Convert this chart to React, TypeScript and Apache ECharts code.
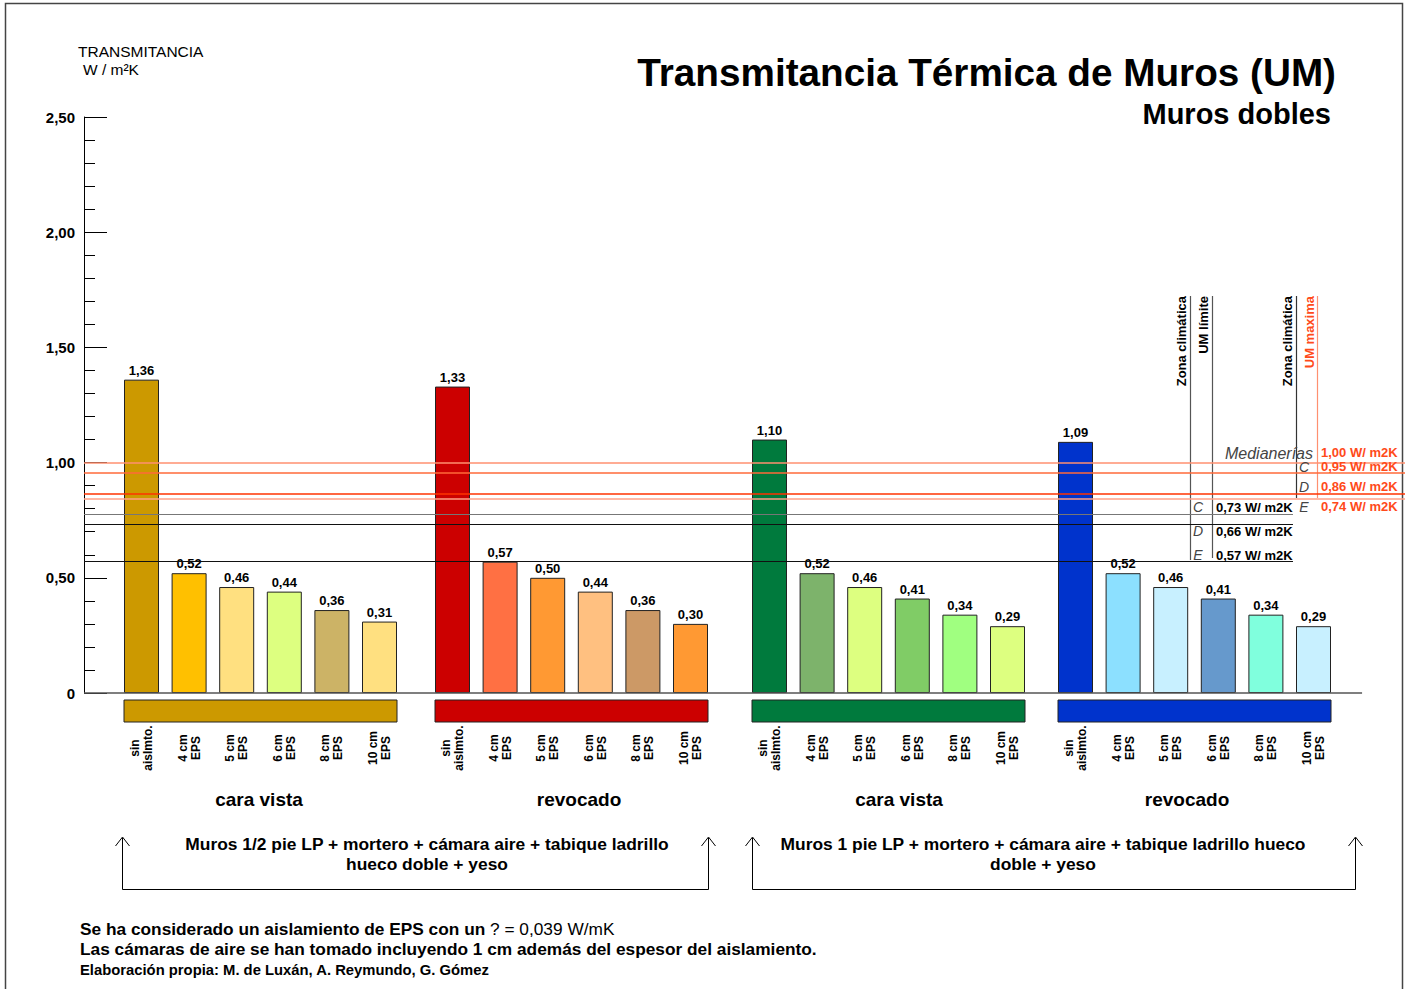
import React, { useEffect, useRef } from 'react';
import * as echarts from 'echarts';

// ---------- data ----------
const categories = ['sin\naislmto.', '4 cm\nEPS', '5 cm\nEPS', '6 cm\nEPS', '8 cm\nEPS', '10 cm\nEPS'];
const groupNames = ['cara vista', 'revocado', 'cara vista', 'revocado'];
const valuesG1 = [1.36, 0.52, 0.46, 0.44, 0.36, 0.31];
const valuesG2 = [1.33, 0.57, 0.5, 0.44, 0.36, 0.3];
const valuesG3 = [1.1, 0.52, 0.46, 0.41, 0.34, 0.29];
const valuesG4 = [1.09, 0.52, 0.46, 0.41, 0.34, 0.29];
const colorsG1 = ['#CC9900', '#FFC000', '#FFE080', '#DDFF80', '#CCB366', '#FFE080'];
const colorsG2 = ['#CC0000', '#FF7043', '#FF9933', '#FFC080', '#CC9966', '#FF9933'];
const colorsG3 = ['#007A3D', '#7DB36B', '#DDFF80', '#80CC66', '#A0FF80', '#DDFF80'];
const colorsG4 = ['#0033CC', '#8CE0FF', '#C8F0FF', '#6699CC', '#80FFDD', '#C8F0FF'];
const yMin = 0;
const yMax = 2.5;
const yInterval = 0.5;
// reference lines (UM maxima: orange / UM limite: black)
const maxLineValues = [1.0, 0.955, 0.865, 0.845];
const maxLineColors = ['#FF9070', '#FF6A3A', '#FF3300', '#FFA088'];
const limitLineValues = [0.777, 0.733, 0.573];
const limitLineColors = ['#777777', '#111111', '#111111'];
const maxZones = ['Medianerías', 'C', 'D', 'E'];
const maxLabels = ['1,00 W/ m2K', '0,95 W/ m2K', '0,86 W/ m2K', '0,74 W/ m2K'];
const limitZones = ['C', 'D', 'E'];
const limitLabels = ['0,73 W/ m2K', '0,66 W/ m2K', '0,57 W/ m2K'];
const wallTypes = [
  'Muros 1/2 pie LP + mortero + cámara aire + tabique ladrillo\nhueco doble + yeso',
  'Muros 1 pie LP + mortero + cámara aire + tabique ladrillo hueco\ndoble + yeso',
];

const groups = [
  { values: valuesG1, colors: colorsG1 },
  { values: valuesG2, colors: colorsG2 },
  { values: valuesG3, colors: colorsG3 },
  { values: valuesG4, colors: colorsG4 },
];

const FONT = '"Liberation Sans", Arial, Helvetica, sans-serif';
const ORANGE = '#FF4A1A';
const fmt = (v: number) => (v === 0 ? '0' : v.toFixed(2).replace('.', ','));

// layout
const PLOT_LEFT = 84;
const PLOT_TOP = 117;
const PLOT_H = 576;
const PLOT_W = 1321;
const groupLefts = [117.7, 428.7, 745.7, 1051.7];
const groupWidth = 285.6;
const BAR_W = 35;

export default function App() {
  const ref = useRef<HTMLDivElement>(null);
  useEffect(() => {
    document.body.style.margin = '0';
    if (!ref.current) return;
    const chart = echarts.init(ref.current, null, { renderer: 'svg' });

    const grids: any[] = [
      { left: PLOT_LEFT, top: PLOT_TOP, width: PLOT_W, height: PLOT_H },
      ...groupLefts.map((l) => ({ left: l, top: PLOT_TOP, width: groupWidth, height: PLOT_H })),
    ];

    const xAxes: any[] = [
      { type: 'value', gridIndex: 0, min: 0, max: 1, show: false },
      ...groups.map((_, i) => ({
        type: 'category',
        gridIndex: i + 1,
        data: categories,
        axisLine: { show: false },
        axisTick: { show: false },
        axisLabel: {
          interval: 0,
          rotate: 90,
          align: 'center',
          margin: 55,
          fontFamily: FONT,
          fontWeight: 'bold',
          fontSize: 12,
          lineHeight: 13,
          color: '#000',
        },
      })),
    ];

    const yAxes: any[] = [
      {
        type: 'value',
        gridIndex: 0,
        min: yMin,
        max: yMax,
        interval: yInterval,
        axisLine: { show: true, lineStyle: { color: '#000', width: 1 } },
        axisTick: { show: true, inside: true, length: 23, lineStyle: { color: '#000' } },
        minorTick: { show: true, splitNumber: 5, length: 11, lineStyle: { color: '#000' } },
        splitLine: { show: false },
        axisLabel: {
          margin: 9,
          padding: [6, 0, 0, 0],
          formatter: (v: number) => fmt(v),
          fontFamily: FONT,
          fontWeight: 'bold',
          fontSize: 15,
          color: '#000',
        },
      },
      ...groups.map((_, i) => ({ type: 'value', gridIndex: i + 1, min: yMin, max: yMax, show: false })),
    ];

    const lineData: any[] = [];
    maxLineValues.forEach((v, i) => {
      lineData.push([
        { coord: [0, v], lineStyle: { color: maxLineColors[i], width: 1.5, type: 'solid' } },
        { coord: [1, v] },
      ]);
    });
    limitLineValues.forEach((v, i) => {
      lineData.push([
        { coord: [0, v], lineStyle: { color: limitLineColors[i], width: 1.2, type: 'solid' } },
        { coord: [0.9152, v] },
      ]);
    });
    lineData.push([
      { coord: [0, 0], lineStyle: { color: '#555', width: 1.5, type: 'solid' } },
      { coord: [0.9675, 0] },
    ]);

    const series: any[] = [
      {
        type: 'line',
        xAxisIndex: 0,
        yAxisIndex: 0,
        data: [],
        symbol: 'none',
        silent: true,
        z: 1,
        markLine: {
          silent: true,
          symbol: ['none', 'none'],
          label: { show: false },
          emphasis: { disabled: true },
          data: lineData,
        },
      },
    ];

    groups.forEach((g, i) => {
      series.push({
        type: 'bar',
        xAxisIndex: i + 1,
        yAxisIndex: i + 1,
        barWidth: BAR_W,
        z: 3,
        data: g.values.map((v, j) => ({ value: v, itemStyle: { color: g.colors[j] } })),
        itemStyle: { borderColor: '#222', borderWidth: 1 },
        label: {
          show: true,
          position: 'top',
          distance: 3,
          formatter: (p: any) => fmt(p.value),
          fontFamily: FONT,
          fontWeight: 'bold',
          fontSize: 13,
          color: '#000',
        },
      });
      series.push({
        type: 'custom',
        xAxisIndex: i + 1,
        yAxisIndex: i + 1,
        data: [[0, 0]],
        silent: true,
        z: 3,
        renderItem: (params: any, api: any) => {
          const first = api.coord([0, 0]);
          const last = api.coord([g.values.length - 1, 0]);
          return {
            type: 'rect',
            shape: {
              x: first[0] - BAR_W / 2,
              y: first[1] + 7,
              width: last[0] - first[0] + BAR_W,
              height: 22,
            },
            style: { fill: g.colors[0], stroke: '#222', lineWidth: 1 },
          };
        },
      });
    });

    const txt = (
      text: string,
      x: number,
      y: number,
      font: string,
      fill = '#000',
      align = 'left',
      extra: any = {}
    ) => ({
      type: 'text',
      x,
      y,
      z: 10,
      silent: true,
      ...extra,
      style: { text, font, fill, textAlign: align, textVerticalAlign: 'middle', ...(extra.style || {}) },
    });

    const groupCenters = [259, 579, 899, 1187];
    const graphics: any[] = [
      {
        type: 'rect',
        shape: { x: 5.5, y: 3.5, width: 1397, height: 1000 },
        style: { fill: 'none', stroke: '#444', lineWidth: 1.5 },
        silent: true,
      },
      txt('TRANSMITANCIA', 78, 51, `15.5px ${FONT}`),
      txt('W / m²K', 83, 69, `15.5px ${FONT}`),
      txt('Transmitancia Térmica de Muros (UM)', 1336, 72, `bold 38.7px ${FONT}`, '#000', 'right'),
      txt('Muros dobles', 1331, 114, `bold 29px ${FONT}`, '#000', 'right'),
      ...groupNames.map((n, i) => txt(n, groupCenters[i], 799, `bold 19px ${FONT}`, '#000', 'center')),
      // legend vertical lines
      { type: 'line', shape: { x1: 1190.5, y1: 296, x2: 1190.5, y2: 560 }, style: { stroke: '#555', lineWidth: 1.2 }, silent: true },
      { type: 'line', shape: { x1: 1212.5, y1: 296, x2: 1212.5, y2: 558 }, style: { stroke: '#555', lineWidth: 1.2 }, silent: true },
      { type: 'line', shape: { x1: 1296.5, y1: 296, x2: 1296.5, y2: 498 }, style: { stroke: '#333', lineWidth: 1.2 }, silent: true },
      { type: 'line', shape: { x1: 1317.5, y1: 296, x2: 1317.5, y2: 498 }, style: { stroke: '#FF9070', lineWidth: 1.2 }, silent: true },
      txt('Zona climática', 1181, 296, `bold 13px ${FONT}`, '#000', 'right', { rotation: Math.PI / 2 }),
      txt('UM límite', 1203, 296, `bold 13px ${FONT}`, '#000', 'right', { rotation: Math.PI / 2 }),
      txt('Zona climática', 1287, 296, `bold 13px ${FONT}`, '#000', 'right', { rotation: Math.PI / 2 }),
      txt('UM maxima', 1309, 296, `bold 13px ${FONT}`, ORANGE, 'right', { rotation: Math.PI / 2 }),
    ];

    const maxRowsY = [452, 466, 486, 506];
    maxZones.forEach((z, i) => {
      if (i === 0) graphics.push(txt(z, 1313, maxRowsY[i] + 1, `italic 16px ${FONT}`, '#444', 'right'));
      else graphics.push(txt(z, 1304, maxRowsY[i] + 1, `italic 14px ${FONT}`, '#444', 'center'));
      graphics.push(txt(maxLabels[i], 1321, maxRowsY[i], `bold 13px ${FONT}`, ORANGE, 'left'));
    });
    const limitRowsY = [507, 531, 555];
    limitZones.forEach((z, i) => {
      graphics.push(txt(z, 1198, limitRowsY[i], `italic 14px ${FONT}`, '#444', 'center'));
      graphics.push(txt(limitLabels[i], 1216, limitRowsY[i], `bold 13px ${FONT}`, '#000', 'left'));
    });

    // brackets
    const brackets = [
      { x1: 122.5, x2: 708.5, cx: 427 },
      { x1: 752.5, x2: 1355.5, cx: 1043 },
    ];
    brackets.forEach((b, i) => {
      graphics.push({
        type: 'polyline',
        shape: { points: [[b.x1, 838], [b.x1, 889.5], [b.x2, 889.5], [b.x2, 838]] },
        style: { stroke: '#000', lineWidth: 1, fill: 'none' },
        silent: true,
      });
      [b.x1, b.x2].forEach((x) => {
        graphics.push({
          type: 'polyline',
          shape: { points: [[x - 7, 846], [x, 837], [x + 7, 846]] },
          style: { stroke: '#000', lineWidth: 1, fill: 'none' },
          silent: true,
        });
      });
      graphics.push(
        txt(wallTypes[i], b.cx, 854, `bold 17.4px ${FONT}`, '#000', 'center', { style: { lineHeight: 20 } })
      );
    });

    graphics.push({
      type: 'text',
      x: 80,
      y: 929,
      z: 10,
      silent: true,
      style: {
        text: '{b|Se ha considerado un aislamiento de EPS con un }{n|? = 0,039 W/mK}',
        textVerticalAlign: 'middle',
        rich: {
          b: { font: `bold 17.3px ${FONT}`, fill: '#000' },
          n: { font: `17.3px ${FONT}`, fill: '#000' },
        },
      },
    });
    graphics.push(
      txt(
        'Las cámaras de aire se han tomado incluyendo 1 cm además del espesor del aislamiento.',
        80,
        949,
        `bold 17.3px ${FONT}`
      )
    );
    graphics.push(txt('Elaboración propia: M. de Luxán, A. Reymundo, G. Gómez', 80, 970, `bold 14.8px ${FONT}`));

    chart.setOption({
      animation: false,
      backgroundColor: '#fff',
      grid: grids,
      xAxis: xAxes,
      yAxis: yAxes,
      series,
      graphic: { elements: graphics },
    });
    return () => chart.dispose();
  }, []);
  return <div ref={ref} style={{ position: 'fixed', left: 0, top: 0, width: 1407, height: 989 }} />;
}
